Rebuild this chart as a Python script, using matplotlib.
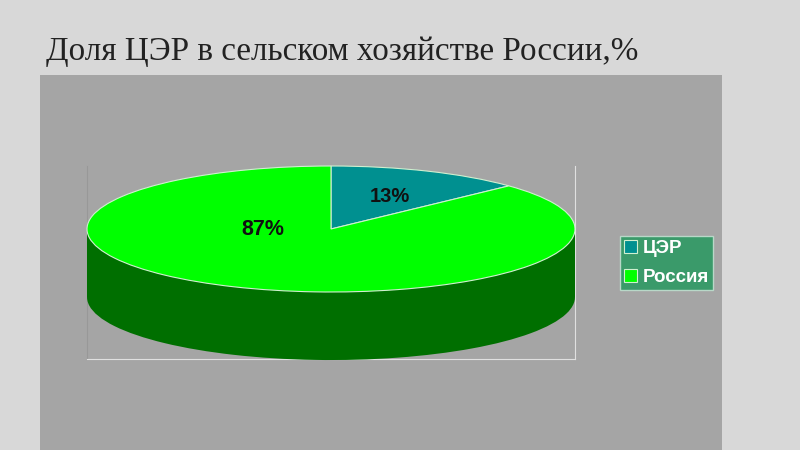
import matplotlib
matplotlib.use('Agg')
import matplotlib.pyplot as plt
from matplotlib.patches import Rectangle

# data
labels = ['ЦЭР', 'Россия']
values = [13, 87]
pct_labels = ['13%', '87%']
title = 'Доля ЦЭР в сельском хозяйстве России,%'

W, H = 800, 450
top_colors = ['#009090', '#00ff00']
side_color = '#006f00'
edge = '#d0f0d0'
depth = 1.08  # height of the disc, in units of the vertical radius


def box(x0, y0, x1, y1):
    # pixel box (y down) to figure fractions
    return [x0 / W, 1 - y1 / H, (x1 - x0) / W, (y1 - y0) / H]


fig = plt.figure(figsize=(8, 4.5), dpi=100, facecolor='#d8d8d8')
fig.patches.append(Rectangle((40 / W, 0), 682 / W, 1 - 75 / H, transform=fig.transFigure,
                             facecolor='#a5a5a5', edgecolor='none', zorder=-1))
fig.text(46 / W, 1 - 52 / H, title, family='Liberation Serif', fontsize=23.9,
         color='#222222', va='center', ha='left')

# frame of the plot area
frame = fig.add_axes(box(87, 166, 575, 359))
frame.set_facecolor('none')
frame.set_xticks([])
frame.set_yticks([])
frame.spines['top'].set_visible(False)
frame.spines['left'].set_color('#989898')
frame.spines['bottom'].set_color('#e0e0e0')
frame.spines['right'].set_color('#e0e0e0')

# axes box is the top face of the disc
ax = fig.add_axes(box(87, 166, 575, 292))
ax.set_facecolor('none')

# side of the disc: same pie shifted down + a band joining the two
low, _ = ax.pie(values, startangle=90, counterclock=False, center=(0, -depth),
                colors=[side_color, side_color], frame=False)
ax.add_patch(Rectangle((-1, -depth), 2, depth, facecolor=side_color, edgecolor='none'))

wedges, _ = ax.pie(values, startangle=90, counterclock=False, colors=top_colors,
                   wedgeprops={'edgecolor': edge, 'linewidth': 0.8})
ax.set_aspect('auto')
ax.set_xlim(-1, 1)
ax.set_ylim(-1, 1)
for p in ax.patches:
    p.set_clip_on(False)

# data labels
ax.text(0.24, 0.52, pct_labels[0], fontsize=14.5, fontweight='bold', family='Liberation Sans',
        color='#111111', ha='center', va='center')
ax.text(-0.28, -0.01, pct_labels[1], fontsize=15.5, fontweight='bold', family='Liberation Sans',
        color='#111111', ha='center', va='center')

leg = fig.legend(wedges, labels, loc='center', bbox_to_anchor=(666.5 / W, 1 - 263 / H),
                 facecolor='#3a9a6a', edgecolor='#b8d8c8', framealpha=1, fancybox=False,
                 prop={'family': 'Liberation Sans', 'weight': 'bold', 'size': 13.5},
                 labelcolor='white', handlelength=0.7, handleheight=0.7, handletextpad=0.3,
                 labelspacing=0.63, borderpad=0.2, borderaxespad=0)
leg.get_frame().set_linewidth(1)

fig.savefig('out.png', dpi=100, facecolor=fig.get_facecolor())
